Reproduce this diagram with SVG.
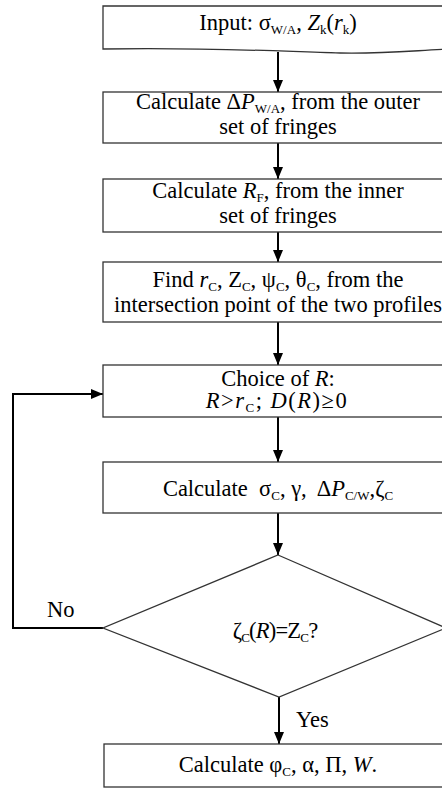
<svg xmlns="http://www.w3.org/2000/svg" width="442" height="800" viewBox="0 0 442 800" font-family="'Liberation Serif', 'DejaVu Serif', serif">
  <style>
    .box { fill: #ffffff; stroke: #333333; stroke-width: 1.3; }
    .flow { fill: none; stroke: #000000; stroke-width: 2; }
    .t { font-family: 'Liberation Serif', 'DejaVu Serif', serif; font-size: 22.5px; fill: #000000; }
    .c { text-anchor: middle; }
    .i { font-style: italic; }
    .sub { font-size: 13px; }
  </style>
  <defs>
    <marker id="arrow" markerUnits="userSpaceOnUse" markerWidth="12" markerHeight="10" refX="12" refY="5" orient="auto">
      <path d="M0,0 L12,5 L0,10 Z" fill="#000000"/>
    </marker>
  </defs>

  <rect width="442" height="800" fill="#ffffff"/>

  <!-- connectors -->
  <g id="connectors">
    <line class="flow" x1="278" y1="52" x2="278" y2="92" marker-end="url(#arrow)"/>
    <line class="flow" x1="278" y1="143" x2="278" y2="179" marker-end="url(#arrow)"/>
    <line class="flow" x1="278" y1="232" x2="278" y2="262" marker-end="url(#arrow)"/>
    <line class="flow" x1="278" y1="322" x2="278" y2="365" marker-end="url(#arrow)"/>
    <line class="flow" x1="278" y1="417" x2="278" y2="462" marker-end="url(#arrow)"/>
    <line class="flow" x1="278" y1="513" x2="278" y2="555" marker-end="url(#arrow)"/>
    <line class="flow" x1="279" y1="697" x2="279" y2="744" marker-end="url(#arrow)"/>
    <path class="flow" d="M103,628 H13 V394 H103" marker-end="url(#arrow)"/>
    <text class="t" x="47" y="617">No</text>
    <text class="t" x="296" y="727">Yes</text>
  </g>

  <!-- input (document shape) -->
  <g id="input">
    <path class="box" d="M103,6 H453 V49 C420,50 385,54 340,53 C270,51 200,47 103,49 Z"/>
    <text class="t c" x="278" y="30">Input: σ<tspan class="sub" dy="4">W/A</tspan><tspan dy="-4">, </tspan><tspan class="i">Z</tspan><tspan class="sub" dy="4">k</tspan><tspan dy="-4">(</tspan><tspan class="i">r</tspan><tspan class="sub" dy="4">k</tspan><tspan dy="-4">)</tspan></text>
  </g>

  <g id="calc-pressure">
    <rect class="box" x="103" y="92" width="350" height="51"/>
    <text class="t c" x="278" y="109">Calculate Δ<tspan class="i">P</tspan><tspan class="sub" dy="4">W/A</tspan><tspan dy="-4">, from the outer</tspan></text>
    <text class="t c" x="278" y="134">set of fringes</text>
  </g>

  <g id="calc-radius">
    <rect class="box" x="103" y="179" width="350" height="53"/>
    <text class="t c" x="278" y="198">Calculate <tspan class="i">R</tspan><tspan class="sub" dy="4">F</tspan><tspan dy="-4">, from the inner</tspan></text>
    <text class="t c" x="278" y="223">set of fringes</text>
  </g>

  <g id="find-contact">
    <rect class="box" x="103" y="262" width="350" height="60"/>
    <text class="t c" x="278" y="287">Find <tspan class="i">r</tspan><tspan class="sub" dy="4">C</tspan><tspan dy="-4">, Z</tspan><tspan class="sub" dy="4">C</tspan><tspan dy="-4">, ψ</tspan><tspan class="sub" dy="4">C</tspan><tspan dy="-4">, θ</tspan><tspan class="sub" dy="4">C</tspan><tspan dy="-4">, from the</tspan></text>
    <text class="t c" x="278" y="312">intersection point of the two profiles</text>
  </g>

  <g id="choose-r">
    <rect class="box" x="103" y="365" width="350" height="52"/>
    <text class="t c" x="278" y="386">Choice of <tspan class="i">R</tspan>:</text>
    <text class="t c" x="277" y="408" letter-spacing="1.5"><tspan class="i">R</tspan>&gt;<tspan class="i">r</tspan><tspan class="sub" dy="4">C</tspan><tspan dy="-4">; </tspan><tspan class="i">D</tspan>(<tspan class="i">R</tspan>)≥0</text>
  </g>

  <g id="calc-tension">
    <rect class="box" x="103" y="462" width="350" height="51"/>
    <text class="t c" x="278" y="496" xml:space="preserve">Calculate  σ<tspan class="sub" dy="4">C</tspan><tspan dy="-4">, γ,  Δ</tspan><tspan class="i">P</tspan><tspan class="sub" dy="4">C/W</tspan><tspan dy="-4">,ζ</tspan><tspan class="sub" dy="4">C</tspan></text>
  </g>

  <g id="check">
    <path class="box" d="M278,555 L446,628 L279,697 L103,628 Z"/>
    <text class="t c" x="275" y="638" letter-spacing="-0.8">ζ<tspan class="sub" dy="4">C</tspan><tspan dy="-4">(</tspan><tspan class="i">R</tspan>)=Z<tspan class="sub" dy="4">C</tspan><tspan dy="-4">?</tspan></text>
  </g>

  <g id="calc-result">
    <rect class="box" x="104" y="744" width="350" height="43"/>
    <text class="t c" x="278" y="772">Calculate φ<tspan class="sub" dy="4">C</tspan><tspan dy="-4">, α, Π, </tspan><tspan class="i">W</tspan>.</text>
  </g>
</svg>
